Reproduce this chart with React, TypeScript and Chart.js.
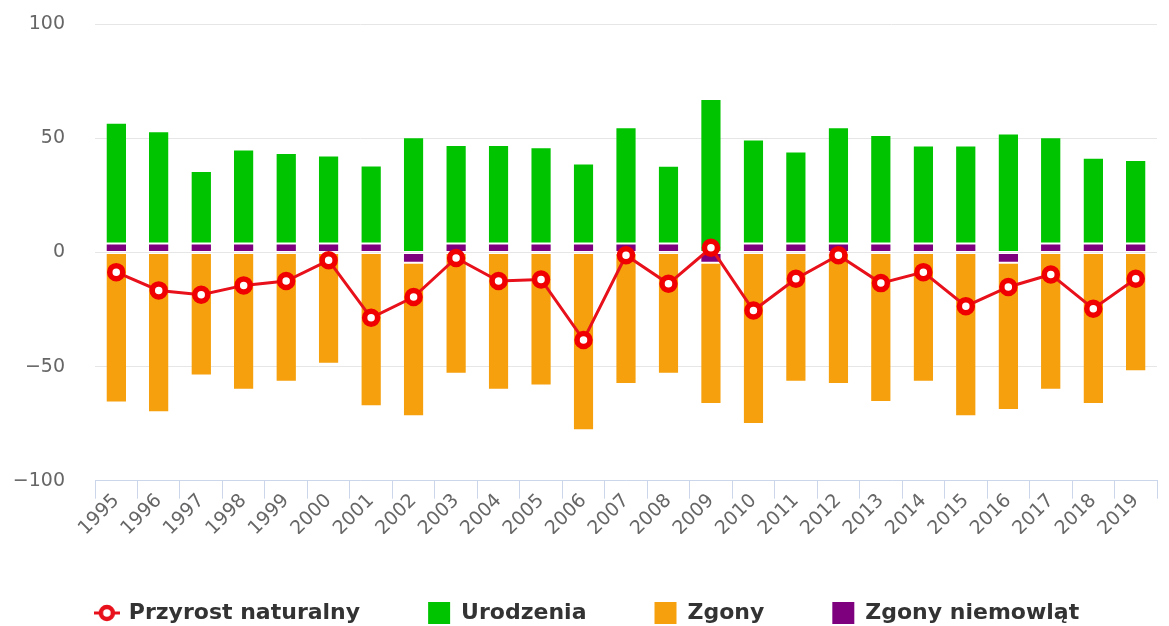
import React, { useEffect, useRef } from "react";
import { Chart, registerables } from "chart.js";

Chart.register(...registerables);

const years = [
  "1995", "1996", "1997", "1998", "1999", "2000", "2001", "2002", "2003", "2004",
  "2005", "2006", "2007", "2008", "2009", "2010", "2011", "2012", "2013", "2014",
  "2015", "2016", "2017", "2018", "2019",
];

const przyrost = [
  -8.6, -16.6, -18.5, -14.4, -12.5, -3.4, -28.6, -19.5, -2.4, -12.5,
  -11.8, -38.3, -1.2, -13.7, 2.1, -25.4, -11.5, -1.2, -13.4, -8.6,
  -23.5, -15.1, -9.6, -24.6, -11.5,
];

const urodzenia = [
  52.9, 49.2, 31.7, 41.2, 39.6, 38.5, 34.2, 50.5, 43.1, 43.1,
  42.1, 35.0, 50.9, 34.0, 67.3, 45.6, 40.3, 50.9, 47.5, 42.9,
  42.9, 52.2, 46.5, 37.5, 36.6,
];

const zgony = [
  -65.7, -70.0, -53.9, -60.1, -56.6, -48.7, -67.4, -67.3, -53.1, -60.1,
  -58.3, -77.9, -57.6, -53.1, -61.9, -75.1, -56.6, -57.6, -65.5, -56.6,
  -71.8, -64.5, -60.1, -66.4, -52.0,
];

const zgonyNiemowlat = [
  4, 4, 4, 4, 4, 4, 4, -4.5, 4, 4,
  4, 4, 4, 4, -4.5, 4, 4, 4, 4, 4,
  4, -4.5, 4, 4, 4,
];

const legendOrder = ["Przyrost naturalny", "Urodzenia", "Zgony", "Zgony niemowląt"];
const yTicks = [-100, -50, 0, 50, 100];

const FONT = "'DejaVu Sans', sans-serif";
const LINE_COLOR = "#e8101a";
const GREEN = "#00c400";
const ORANGE = "#f5a00c";
const PURPLE = "#7f007f";

const CANVAS_TOP = -17;
const CANVAS_H = 626 - CANVAS_TOP + 8;

function makeIcon(kind: "line" | "rect", color: string): HTMLCanvasElement {
  const c = document.createElement("canvas");
  const w = kind === "line" ? 26 : 24;
  const h = 24;
  c.width = w;
  c.height = h;
  const ctx = c.getContext("2d")!;
  if (kind === "line") {
    ctx.strokeStyle = color;
    ctx.lineWidth = 3;
    ctx.beginPath();
    ctx.moveTo(0, h / 2);
    ctx.lineTo(w, h / 2);
    ctx.stroke();
    ctx.beginPath();
    ctx.arc(w / 2, h / 2, 6, 0, Math.PI * 2);
    ctx.fillStyle = "#ffffff";
    ctx.fill();
    ctx.lineWidth = 4.5;
    ctx.strokeStyle = color;
    ctx.stroke();
  } else {
    ctx.fillStyle = color;
    ctx.fillRect(1, 1, w - 2, h - 2);
  }
  return c;
}

export default function App() {
  const ref = useRef<HTMLCanvasElement | null>(null);

  useEffect(() => {
    if (!ref.current) return;
    const icons: Record<string, HTMLCanvasElement> = {
      "Przyrost naturalny": makeIcon("line", LINE_COLOR),
      Urodzenia: makeIcon("rect", GREEN),
      Zgony: makeIcon("rect", ORANGE),
      "Zgony niemowląt": makeIcon("rect", PURPLE),
    };
    const barBorder = { top: 1, bottom: 1, left: 0, right: 0 };
    const chart = new Chart(ref.current, {
      type: "bar",
      data: {
        labels: years,
        datasets: [
          {
            type: "line",
            label: "Przyrost naturalny",
            data: przyrost,
            stack: "line",
            borderColor: LINE_COLOR,
            backgroundColor: "#ffffff",
            borderWidth: 3,
            pointRadius: 6.5,
            pointBorderWidth: 5.5,
            pointBackgroundColor: "#ffffff",
            pointBorderColor: "#f00000",
            pointStyle: "circle",
            tension: 0,
          } as any,
          {
            label: "Zgony niemowląt",
            data: zgonyNiemowlat,
            stack: "bars",
            backgroundColor: PURPLE,
            borderColor: "#ffffff",
            borderWidth: barBorder,
            borderSkipped: false,
          },
          {
            label: "Urodzenia",
            data: urodzenia,
            stack: "bars",
            backgroundColor: GREEN,
            borderColor: "#ffffff",
            borderWidth: barBorder,
            borderSkipped: false,
          },
          {
            label: "Zgony",
            data: zgony,
            stack: "bars",
            backgroundColor: ORANGE,
            borderColor: "#ffffff",
            borderWidth: barBorder,
            borderSkipped: false,
          },
        ],
      },
      options: {
        animation: false,
        responsive: false,
        maintainAspectRatio: false,
        layout: { padding: { top: 0, right: 2, left: 8, bottom: 0 } },
        datasets: {
          bar: { barPercentage: 0.46, categoryPercentage: 1 },
        },
        scales: {
          x: {
            stacked: true,
            offset: true,
            afterFit: (scale: any) => {
              scale.height = scale.height + 3;
            },
            grid: {
              display: true,
              drawOnChartArea: false,
              drawTicks: true,
              offset: true,
              tickLength: 18,
              color: "#ccd6eb",
            },
            border: { display: true, color: "#ccd6eb" },
            ticks: {
              minRotation: 45,
              maxRotation: 45,
              autoSkip: false,
              font: { family: FONT, size: 19 },
              color: "#666666",
              padding: -9,
            },
          },
          y: {
            stacked: true,
            min: -100,
            max: 100,
            afterBuildTicks: (scale: any) => {
              scale.ticks = yTicks.map((v) => ({ value: v }));
            },
            afterFit: (scale: any) => {
              scale.width = 87;
            },
            grid: { color: "#e6e6e6", drawTicks: false, lineWidth: 1 },
            border: { display: false },
            ticks: {
              font: { family: FONT, size: 19 },
              color: "#666666",
              padding: 30,
              callback: (v: any) => String(v).replace("-", "\u2212"),
            },
          },
        },
        plugins: {
          tooltip: { enabled: false },
          legend: {
            position: "bottom",
            labels: {
              usePointStyle: true,
              boxWidth: 22,
              boxHeight: 22,
              padding: 68,
              color: "#333333",
              font: { family: FONT, size: 22, weight: "bold" },
              generateLabels: (ch: any) => {
                const items = Chart.defaults.plugins.legend.labels.generateLabels(ch);
                items.forEach((it: any) => {
                  it.pointStyle = icons[it.text];
                  it.lineWidth = 0;
                });
                return items;
              },
              sort: (a: any, b: any) =>
                legendOrder.indexOf(a.text) - legendOrder.indexOf(b.text),
            },
          },
        },
      },
    });
    return () => chart.destroy();
  }, []);

  return (
    <div style={{ position: "fixed", left: 0, top: 0, width: 1169, height: 626, background: "#fff", overflow: "hidden" }}>
      <canvas
        ref={ref}
        width={1169}
        height={CANVAS_H}
        style={{ position: "absolute", left: 0, top: CANVAS_TOP, width: 1169, height: CANVAS_H }}
      />
    </div>
  );
}
